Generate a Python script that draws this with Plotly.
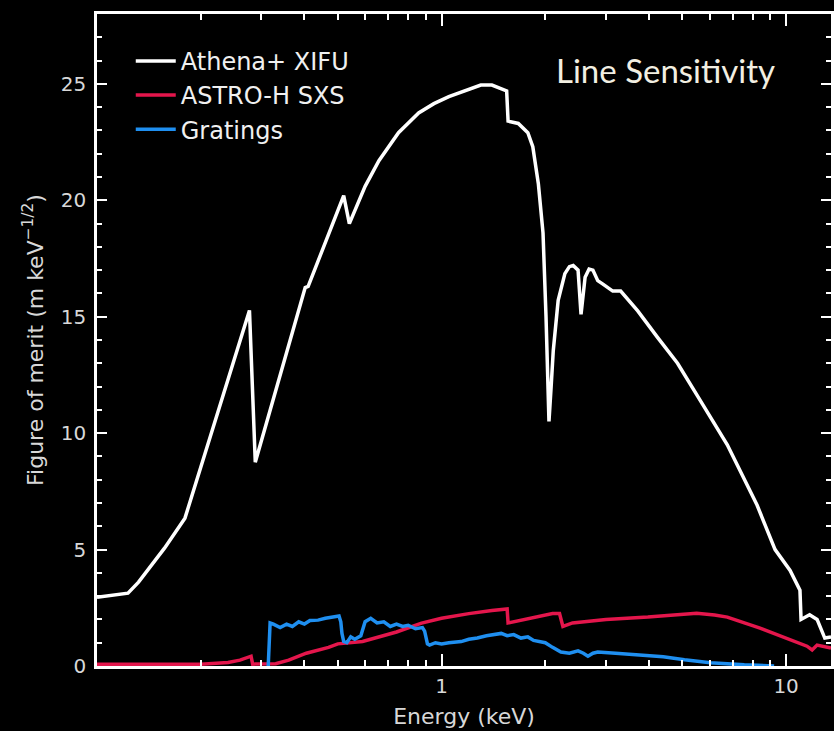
import plotly.graph_objects as go

# ---------------- data ----------------
xifu_energy = [0.1, 0.112, 0.123, 0.132, 0.142, 0.157, 0.18, 0.277, 0.288, 0.398, 0.402, 0.41,
               0.52, 0.54, 0.6, 0.658, 0.75, 0.858, 0.95, 1.05, 1.2, 1.3, 1.4, 1.49, 1.545, 1.56,
               1.67, 1.78, 1.84, 1.91, 1.97, 2.01, 2.04, 2.05, 2.08, 2.11, 2.18, 2.28, 2.35, 2.41,
               2.49, 2.54, 2.61, 2.68, 2.75, 2.84, 2.94, 3.14, 3.31, 3.71, 4.24, 4.84, 5.53, 6.75,
               8.24, 9.29, 10.27, 10.97, 11.05, 11.7, 12.3, 12.7, 12.95, 13.5]
xifu_fom = [2.95, 3.05, 3.13, 3.6, 4.2, 5.06, 6.35, 15.27, 8.75, 15.9, 16.25, 16.3,
            20.2, 19.0, 20.6, 21.7, 22.9, 23.75, 24.15, 24.45, 24.75, 24.95, 24.95, 24.8, 24.7, 23.4,
            23.3, 22.9, 22.3, 20.7, 18.6, 15.0, 12.1, 10.5, 12.0, 13.55, 15.7, 16.85, 17.15, 17.2,
            17.0, 15.1, 16.7, 17.05, 17.0, 16.55, 16.4, 16.1, 16.1, 15.25, 14.1, 13.0, 11.6, 9.5,
            6.9, 5.0, 4.1, 3.26, 2.0, 2.2, 2.0, 1.55, 1.2, 1.25]

sxs_energy = [0.1, 0.2, 0.24, 0.26, 0.28, 0.283, 0.33, 0.36, 0.405, 0.47, 0.5, 0.59, 0.74,
              0.875, 1.0, 1.2, 1.4, 1.55, 1.56, 1.8, 2.1, 2.2, 2.25, 2.4, 3.0, 3.97, 5.5, 6.2,
              6.75, 8.4, 10.6, 11.5, 11.9, 12.3, 13.5]
sxs_fom = [0.08, 0.08, 0.15, 0.25, 0.42, 0.08, 0.1, 0.25, 0.55, 0.8, 0.95, 1.05, 1.46,
           1.84, 2.05, 2.25, 2.38, 2.45, 1.85, 2.05, 2.25, 2.25, 1.7, 1.85, 2.0, 2.1, 2.27, 2.19,
           2.1, 1.63, 1.03, 0.85, 0.69, 0.9, 0.77]

grat_energy = [0.314, 0.318, 0.325, 0.34, 0.355, 0.369, 0.385, 0.40, 0.415, 0.438, 0.46, 0.48,
               0.504, 0.51, 0.514, 0.52, 0.531, 0.545, 0.56, 0.583, 0.6, 0.623, 0.65, 0.68, 0.71,
               0.74, 0.771, 0.80, 0.84, 0.88, 0.893, 0.91, 0.923, 0.96, 1.0, 1.05, 1.14, 1.2, 1.27,
               1.35, 1.42, 1.49, 1.55, 1.62, 1.7, 1.78, 1.85, 1.92, 2.0, 2.1, 2.22, 2.35, 2.49,
               2.58, 2.66, 2.75, 2.84, 3.2, 3.89, 4.4, 5.07, 6.03, 7.56, 8.5, 9.23]
grat_fom = [0.0, 1.85, 1.8, 1.65, 1.8, 1.7, 1.9, 1.8, 1.95, 1.97, 2.05, 2.1,
            2.15, 1.9, 1.4, 1.05, 1.0, 1.25, 1.15, 1.3, 1.9, 2.05, 1.85, 1.9, 1.7,
            1.8, 1.7, 1.75, 1.6, 1.65, 1.5, 0.95, 0.9, 1.0, 0.95, 1.0, 1.05, 1.15, 1.2,
            1.3, 1.35, 1.4, 1.3, 1.35, 1.2, 1.25, 1.1, 1.05, 1.0, 0.8, 0.6, 0.55, 0.65,
            0.55, 0.42, 0.55, 0.6, 0.55, 0.47, 0.4, 0.27, 0.14, 0.05, 0.02, 0.0]

series_names = ["Athena+ XIFU", "ASTRO-H SXS", "Gratings"]
series_colors = ["#ffffff", "#e4164c", "#1f8ff0"]

x_tick_vals = [1, 10]
x_tick_text = ["1", "10"]
x_minor_vals = [0.2, 0.3, 0.4, 0.5, 0.6, 0.7, 0.8, 0.9, 2, 3, 4, 5, 6, 7, 8, 9]
y_tick_vals = [0, 5, 10, 15, 20, 25]
y_tick_text = ["0", "5", "10", "15", "20", "25"]

# ---------------- figure ----------------
fig = go.Figure()
# draw order: red, blue, then white on top; legend order via legendrank
for xs, ys, idx in [(sxs_energy, sxs_fom, 1), (grat_energy, grat_fom, 2), (xifu_energy, xifu_fom, 0)]:
    fig.add_trace(go.Scatter(x=xs, y=ys, mode="lines", name=series_names[idx],
                             legendrank=idx + 1,
                             line=dict(color=series_colors[idx], width=3.5)))

tick_font = dict(family="DejaVu Sans", size=20, color="#d8d8d8")
title_font = dict(family="DejaVu Sans", size=22, color="#d8d8d8")

fig.update_layout(
    width=834, height=731,
    paper_bgcolor="black", plot_bgcolor="black",
    margin=dict(l=97, r=0, t=14, b=65),
    showlegend=True,
    legend=dict(x=0.046, y=0.962, xanchor="left", yanchor="top",
                bgcolor="rgba(0,0,0,0)", traceorder="normal",
                font=dict(family="DejaVu Sans", size=24, color="#f0f0f0"),
                itemwidth=40),
    xaxis=dict(type="log", range=[-1, 1.1303],
               tickmode="array", tickvals=x_tick_vals, ticktext=x_tick_text,
               ticks="inside", ticklen=12, tickwidth=2, tickcolor="white",
               minor=dict(tickmode="array", tickvals=x_minor_vals, ticks="inside",
                          ticklen=6, tickwidth=2, tickcolor="white"),
               showline=True, linecolor="white", linewidth=2.5, mirror="ticks",
               showgrid=False, zeroline=False,
               tickfont=tick_font,
               title=dict(text="Energy (keV)", font=title_font, standoff=12)),
    yaxis=dict(range=[0, 28],
               tickmode="array", tickvals=y_tick_vals, ticktext=y_tick_text,
               ticks="inside", ticklen=10, tickwidth=2, tickcolor="white",
               minor=dict(dtick=1, ticks="inside", ticklen=5, tickwidth=2, tickcolor="white"),
               showline=True, linecolor="white", linewidth=2.5, mirror="ticks",
               showgrid=False, zeroline=False,
               tickfont=tick_font, ticklabelstandoff=4,
               title=dict(text="Figure of merit (m keV<sup>−1/2</sup>)", font=title_font, standoff=12)),
    annotations=[dict(text="Line Sensitivity", xref="paper", yref="paper",
                      x=0.775, y=0.914, xanchor="center", yanchor="middle", showarrow=False,
                      font=dict(family="Lato", size=33, color="#f2efe2"))],
)

fig.write_html("out.html", config={"displayModeBar": False},
               post_script="document.body.style.margin='0';document.body.style.background='black';")
